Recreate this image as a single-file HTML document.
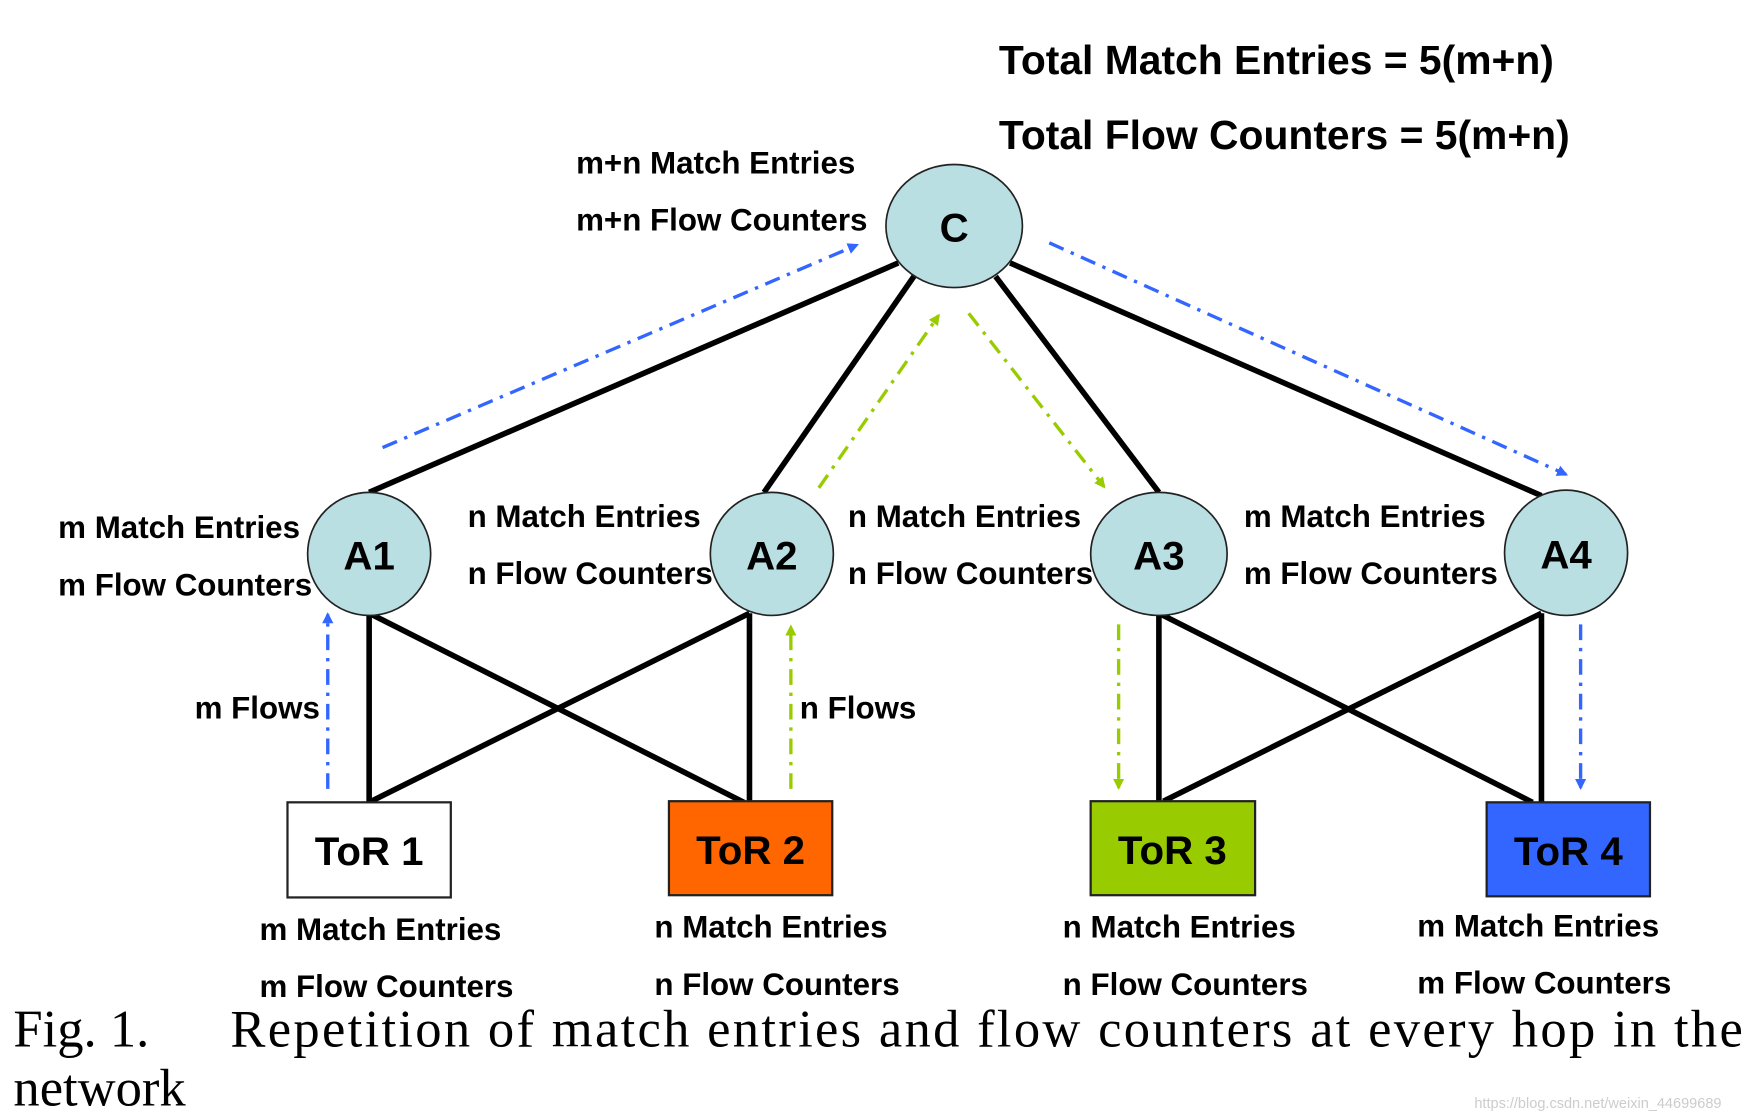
<!DOCTYPE html>
<html><head><meta charset="utf-8"><style>html,body{margin:0;padding:0;background:#fff}svg{display:block}</style></head>
<body>
<svg width="1754" height="1119" viewBox="0 0 1568 1000" preserveAspectRatio="none" xmlns="http://www.w3.org/2000/svg">
<defs>
<marker id="ab" markerWidth="10" markerHeight="10" refX="8" refY="5" orient="auto" markerUnits="userSpaceOnUse"><path d="M0,0 L10,5 L0,10 z" fill="#3366ff"/></marker>
<marker id="ag" markerWidth="10" markerHeight="10" refX="8" refY="5" orient="auto" markerUnits="userSpaceOnUse"><path d="M0,0 L10,5 L0,10 z" fill="#99cc00"/></marker>
</defs>
<g stroke="#000" stroke-width="5" fill="none">
<line x1="803" y1="235" x2="330" y2="440"/>
<line x1="817" y1="247" x2="683" y2="440"/>
<line x1="890" y1="247" x2="1036" y2="440"/>
<line x1="903" y1="235" x2="1378" y2="443"/>
<line x1="330" y1="548" x2="330" y2="717"/>
<line x1="330" y1="548" x2="665" y2="717"/>
<line x1="670" y1="548" x2="670" y2="716"/>
<line x1="670" y1="548" x2="330" y2="717"/>
<line x1="1036" y1="548" x2="1036" y2="716"/>
<line x1="1036" y1="548" x2="1370" y2="717"/>
<line x1="1378" y1="548" x2="1378" y2="717"/>
<line x1="1378" y1="548" x2="1040" y2="716"/>
</g>
<g stroke-width="3" fill="none" stroke-dasharray="14,7,3,7">
<line x1="342" y1="400" x2="766" y2="219" stroke="#3366ff" marker-end="url(#ab)"/>
<line x1="938" y1="217" x2="1400" y2="424" stroke="#3366ff" marker-end="url(#ab)"/>
<line x1="732" y1="436" x2="839" y2="282" stroke="#99cc00" marker-end="url(#ag)"/>
<line x1="866" y1="280" x2="987" y2="435" stroke="#99cc00" marker-end="url(#ag)"/>
<line x1="293" y1="705" x2="293" y2="549" stroke="#3366ff" marker-end="url(#ab)"/>
<line x1="707" y1="705" x2="707" y2="560" stroke="#99cc00" marker-end="url(#ag)"/>
<line x1="1000" y1="558" x2="1000" y2="704" stroke="#99cc00" marker-end="url(#ag)"/>
<line x1="1413" y1="558" x2="1413" y2="704" stroke="#3366ff" marker-end="url(#ab)"/>
</g>
<g fill="#b9dfe3" stroke="#222" stroke-width="1.5">
<ellipse cx="853" cy="202" rx="61" ry="55"/>
<ellipse cx="330" cy="495" rx="55" ry="55"/>
<ellipse cx="690" cy="495" rx="55" ry="55"/>
<ellipse cx="1036" cy="495" rx="61" ry="55"/>
<ellipse cx="1400" cy="494" rx="55" ry="56"/>
</g>
<g stroke="#222" stroke-width="2">
<rect x="257" y="717" width="146" height="85" fill="#fff"/>
<rect x="598" y="716" width="146" height="84" fill="#ff6600"/>
<rect x="975" y="716" width="147" height="84" fill="#99cc00"/>
<rect x="1329" y="717" width="146" height="84" fill="#3366ff"/>
</g>
<g font-family="Liberation Sans, sans-serif" font-weight="bold" fill="#000">
<g font-size="36" text-anchor="middle">
<text x="853" y="216">C</text>
<text x="330" y="509">A1</text>
<text x="690" y="509">A2</text>
<text x="1036" y="509">A3</text>
<text x="1400" y="508">A4</text>
<text x="330" y="773">ToR 1</text>
<text x="671" y="772">ToR 2</text>
<text x="1048" y="772">ToR 3</text>
<text x="1402" y="773">ToR 4</text>
</g>
<text x="893" y="66" font-size="36.5">Total Match Entries = 5(m+n)</text>
<text x="893" y="133" font-size="36.5">Total Flow Counters = 5(m+n)</text>
<g font-size="28">
<text x="515" y="155">m+n Match Entries</text>
<text x="515" y="206">m+n Flow Counters</text>
<text x="52" y="481">m Match Entries</text>
<text x="52" y="532">m Flow Counters</text>
<text x="418" y="471">n Match Entries</text>
<text x="418" y="522">n Flow Counters</text>
<text x="758" y="471">n Match Entries</text>
<text x="758" y="522">n Flow Counters</text>
<text x="1112" y="471">m Match Entries</text>
<text x="1112" y="522">m Flow Counters</text>
<text x="174" y="642">m Flows</text>
<text x="715" y="642">n Flows</text>
<text x="232" y="840">m Match Entries</text>
<text x="232" y="891">m Flow Counters</text>
<text x="585" y="838">n Match Entries</text>
<text x="585" y="889">n Flow Counters</text>
<text x="950" y="838">n Match Entries</text>
<text x="950" y="889">n Flow Counters</text>
<text x="1267" y="837">m Match Entries</text>
<text x="1267" y="888">m Flow Counters</text>
</g>
</g>
<g font-family="Liberation Serif, serif" font-size="47" fill="#000">
<text x="12" y="935">Fig. 1.</text>
<text x="206" y="935" textLength="1352" lengthAdjust="spacing">Repetition of match entries and flow counters at every hop in the</text>
<text x="12" y="988">network</text>
</g>
<text x="1318" y="990" font-family="Liberation Sans, sans-serif" font-size="13" fill="#ccc">https://blog.csdn.net/weixin_44699689</text>
</svg>
</body></html>
